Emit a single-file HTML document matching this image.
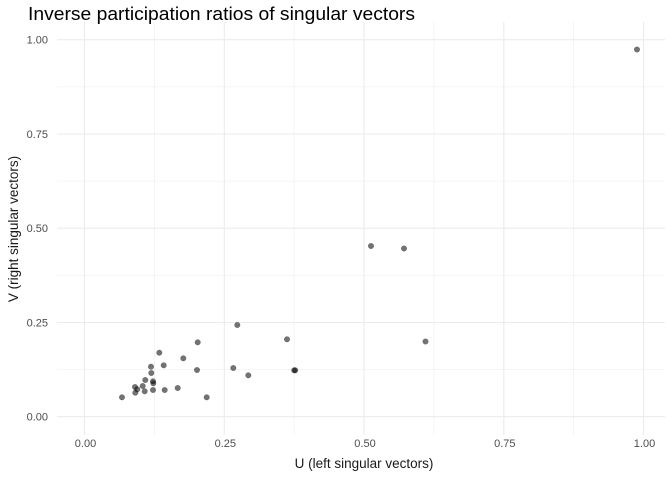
<!DOCTYPE html>
<html><head><style>body{margin:0;background:#fff}svg{display:block;font-family:"Liberation Sans",sans-serif}</style></head><body>
<svg width="672" height="480" viewBox="0 0 672 480">
<rect width="672" height="480" fill="#fff"/>
<g stroke="#ebebeb" stroke-width="0.55">
<line x1="57" x2="665" y1="369.6" y2="369.6"/><line x1="57" x2="665" y1="275.4" y2="275.4"/><line x1="57" x2="665" y1="181.1" y2="181.1"/><line x1="57" x2="665" y1="86.9" y2="86.9"/>
<line y1="22" y2="435" x1="154.4" x2="154.4"/><line y1="22" y2="435" x1="294.1" x2="294.1"/><line y1="22" y2="435" x1="433.9" x2="433.9"/><line y1="22" y2="435" x1="573.6" x2="573.6"/>
</g>
<g stroke="#ebebeb" stroke-width="1.1">
<line x1="57" x2="665" y1="416.7" y2="416.7"/><line x1="57" x2="665" y1="322.5" y2="322.5"/><line x1="57" x2="665" y1="228.2" y2="228.2"/><line x1="57" x2="665" y1="134" y2="134"/><line x1="57" x2="665" y1="39.7" y2="39.7"/>
<line y1="22" y2="435" x1="84.5" x2="84.5"/><line y1="22" y2="435" x1="224.3" x2="224.3"/><line y1="22" y2="435" x1="364" x2="364"/><line y1="22" y2="435" x1="503.8" x2="503.8"/><line y1="22" y2="435" x1="643.5" x2="643.5"/>
</g>
<g fill="#4d4d4d" font-size="11" text-anchor="end">
<text x="48" y="420.5">0.00</text><text x="48" y="326.3">0.25</text><text x="48" y="232">0.50</text><text x="48" y="137.8">0.75</text><text x="48" y="43.5">1.00</text>
</g>
<g fill="#4d4d4d" font-size="11" text-anchor="middle">
<text x="85.5" y="447">0.00</text><text x="225.3" y="447">0.25</text><text x="365" y="447">0.50</text><text x="504.8" y="447">0.75</text><text x="644.5" y="447">1.00</text>
</g>
<text x="364" y="468" font-size="13.5" text-anchor="middle" fill="#1a1a1a">U (left singular vectors)</text>
<text transform="translate(18,229) rotate(-90)" font-size="13.5" text-anchor="middle" fill="#1a1a1a">V (right singular vectors)</text>
<text x="28" y="20" font-size="18.5" fill="#000" textLength="387" lengthAdjust="spacingAndGlyphs">Inverse participation ratios of singular vectors</text>
<g fill="#000" fill-opacity="0.55" stroke="#000" stroke-opacity="0.3" stroke-width="0.5">
<circle cx="122" cy="397.3" r="2.8"/><circle cx="135" cy="387" r="2.8"/><circle cx="135.3" cy="392.7" r="2.8"/><circle cx="137.3" cy="389.3" r="2.8"/><circle cx="142.7" cy="386" r="2.8"/><circle cx="144.7" cy="391.3" r="2.8"/><circle cx="145.3" cy="380" r="2.8"/><circle cx="151" cy="366.7" r="2.8"/><circle cx="151.3" cy="373" r="2.8"/><circle cx="153" cy="381.3" r="2.8"/><circle cx="153.3" cy="383.3" r="2.8"/><circle cx="153" cy="390" r="2.8"/><circle cx="159.3" cy="352.7" r="2.8"/><circle cx="163.7" cy="365.3" r="2.8"/><circle cx="164.7" cy="390" r="2.8"/><circle cx="177.7" cy="388" r="2.8"/><circle cx="183.3" cy="358.3" r="2.8"/><circle cx="197" cy="370" r="2.8"/><circle cx="197.7" cy="342.3" r="2.8"/><circle cx="206.7" cy="397.3" r="2.8"/><circle cx="233.3" cy="368" r="2.8"/><circle cx="237.3" cy="325" r="2.8"/><circle cx="248.3" cy="375.3" r="2.8"/><circle cx="287" cy="339.3" r="2.8"/><circle cx="294.2" cy="370.3" r="2.8"/><circle cx="295.2" cy="370.3" r="2.8"/><circle cx="371" cy="246" r="2.8"/><circle cx="404" cy="248.5" r="2.8"/><circle cx="425.5" cy="341.5" r="2.8"/><circle cx="637" cy="49.5" r="2.8"/>
</g>
</svg>
</body></html>
